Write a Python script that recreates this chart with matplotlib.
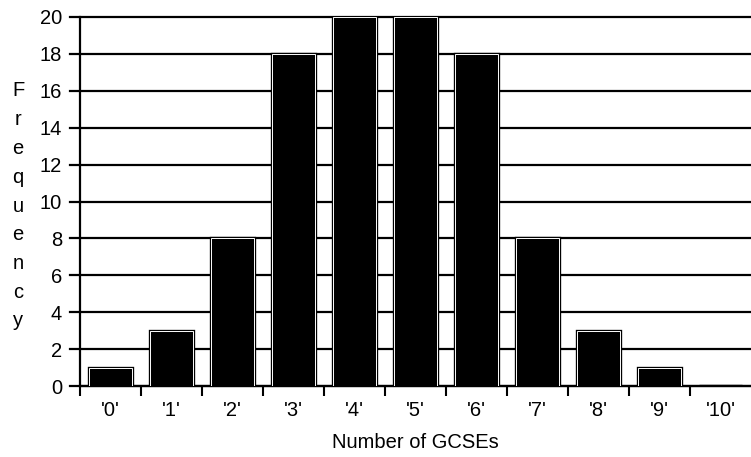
import matplotlib
matplotlib.use("Agg")
import matplotlib.pyplot as plt

plt.rcParams['font.family'] = ['Liberation Sans', 'DejaVu Sans']

# data
categories = ["'0'", "'1'", "'2'", "'3'", "'4'", "'5'", "'6'", "'7'", "'8'", "'9'", "'10'"]
frequency = [1, 3, 8, 18, 20, 20, 18, 8, 3, 1, 0]
yticks = [0, 2, 4, 6, 8, 10, 12, 14, 16, 18, 20]

fig = plt.figure(figsize=(7.51, 4.57), dpi=100)
ax = fig.add_axes([80/751, 1-386/457, 1-80/751, (386-17)/457])

x = range(len(categories))
# horizontal grid lines, reaching past the left spine like ticks
for v in yticks:
    ax.axhline(v, xmin=-0.015, xmax=1, color='black', lw=1.6, clip_on=False, zorder=1)

ax.bar(x, frequency, width=0.7, color='black', edgecolor='black', linewidth=2.4, zorder=2)
ax.bar(x, frequency, width=0.7, color='black', edgecolor='white', linewidth=0.7, zorder=3)

ax.set_xlim(-0.5, 10.5)
ax.set_ylim(0, 20)
ax.set_yticks(yticks)
ax.set_yticklabels([str(v) for v in yticks], fontsize=14.5)
ax.tick_params(axis='y', length=0, pad=13)

ax.set_xticks(x)
ax.set_xticklabels(categories, fontsize=14.5)
ax.tick_params(axis='x', length=0, pad=11)
# boundary ticks between categories
ax.set_xticks([i - 0.5 for i in range(len(categories))], minor=True)
ax.tick_params(axis='x', which='minor', length=7, width=1.5, direction='out')

for s in ['top', 'right']:
    ax.spines[s].set_visible(False)
ax.spines['left'].set_linewidth(1.6)
ax.spines['bottom'].set_linewidth(1.6)

ax.set_xlabel('Number of GCSEs', fontsize=14.5, labelpad=9)
fig.text(18/751, 1-206/457, "\n".join("Frequency"), fontsize=14.5,
         ha='center', va='center', linespacing=1.65)

fig.savefig('out.png', dpi=100)
